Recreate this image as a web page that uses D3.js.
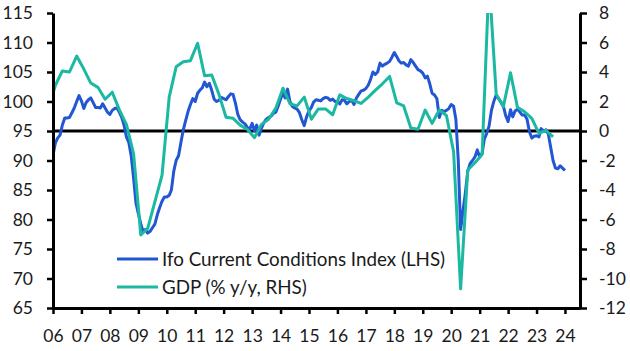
<!DOCTYPE html>
<html>
<head>
<meta charset="utf-8">
<script src="https://cdn.jsdelivr.net/npm/d3@7"></script>
<style>
  html, body { margin: 0; padding: 0; background: #fff; }
  svg { display: block; }
  text { font-family: "Lato", "Open Sans", sans-serif; fill: #1a1a1a; }
</style>
</head>
<body>
<svg id="chart" width="630" height="351"></svg>
<script>
// ---------- DATA ----------
// Ifo Current Conditions Index, monthly, Jan 2006 onwards (LHS)
const ifoStart = [2006, 0];
const ifoValues = [
  90.9, 93.0, 93.8, 94.3, 96.0, 97.2, 97.2, 97.3, 98.1, 98.9, 100.0, 101.0,
  100.1, 98.8, 99.8, 100.3, 100.6, 99.8, 99.0, 99.0, 98.9, 99.6, 98.9, 98.2,
  97.8, 98.5, 98.8, 98.9, 98.2, 97.3, 96.0, 94.0, 93.0, 90.8, 87.0, 82.8,
  81.0, 79.3, 78.0, 78.3, 77.7, 78.0, 78.6, 79.2, 80.8, 82.0, 83.1, 83.8,
  83.8, 84.1, 85.0, 88.2, 90.0, 90.8, 93.0, 95.2, 96.8, 98.3, 99.5, 100.5,
  100.0, 101.4, 101.9, 102.3, 103.3, 102.5, 103.1, 101.9, 100.4, 100.0, 100.2, 100.7,
  100.5, 100.3, 100.8, 101.3, 101.2, 99.7, 97.8, 96.9, 96.5, 96.2, 95.6, 95.3,
  96.3, 95.0, 96.0, 94.3, 95.5, 96.4, 97.0, 97.3, 97.5, 98.0, 98.2, 99.2,
  100.4, 101.5, 100.6, 102.1, 100.0, 99.2, 98.9, 98.7, 98.1, 96.9, 95.9, 97.4,
  98.4, 99.0, 99.9, 100.3, 100.2, 100.1, 100.5, 100.7, 100.6, 100.2, 100.4, 100.0,
  100.0, 99.6, 100.3, 100.2, 99.6, 100.0, 100.2, 99.5, 100.6, 101.2, 101.8, 101.9,
  102.2, 102.8, 103.7, 105.0, 104.6, 105.0, 106.5, 106.0, 106.3, 106.5, 106.8, 107.5,
  108.3, 107.6, 106.9, 106.5, 106.6, 106.2, 106.0, 107.1, 106.6, 106.0, 105.4, 105.2,
  104.8, 104.0, 104.3, 103.0, 101.4, 101.1, 100.5, 97.3, 98.5, 98.3, 98.5, 98.8,
  99.5, 99.2, 97.0, 90.0, 78.3, 81.5, 84.5, 88.2, 89.5, 90.0, 90.6, 91.8,
  90.6, 91.2, 93.6, 94.6, 95.8, 98.5, 100.0, 101.1, 100.5, 99.9, 99.2, 97.6,
  96.6, 98.6, 97.4, 98.4, 98.7, 98.2, 97.7, 97.7, 97.0, 94.9, 93.8, 94.1,
  94.2, 94.0, 95.4, 95.0, 95.2, 94.5, 92.3, 90.0, 88.7, 88.6, 89.1, 88.7,
  88.3
];

// GDP, % y/y, quarterly from 2005 Q4 (RHS), plotted at mid-quarter
const gdpStart = [2005, 10];
const gdpValues = [
  1.5,
  3.1, 4.07, 4.0, 5.08,
  4.2, 3.25, 2.96, 2.15,
  2.63, 1.45, 0.45, -1.55,
  -7.05, -6.6, -4.8, -3.0,
  2.3, 4.35, 4.7, 4.77,
  5.95, 3.75, 3.8, 2.5,
  0.93, 0.86, 0.4, 0.1,
  -0.45, 0.45, 0.8, 1.55,
  2.9, 1.85, 1.7, 2.3,
  0.8, 1.5, 1.5, 1.1,
  2.45, 2.2, 2.05, 1.87,
  2.3, 2.75, 3.2, 3.7,
  1.9, 1.7, 0.2, 0.12,
  1.42, 0.52, 1.42, 1.05,
  -1.4, -10.7, -2.64, -2.15,
  -1.6, 10.3, 2.5, 1.65,
  3.95, 1.6, 1.3, 0.86,
  -0.16, 0.05, -0.4
];

const leftTicks = [65, 70, 75, 80, 85, 90, 95, 100, 105, 110, 115];
const rightTicks = [-12, -10, -8, -6, -4, -2, 0, 2, 4, 6, 8];
const yearTicks = d3.range(2006, 2025);
const seriesNames = ["Ifo Current Conditions Index (LHS)", "GDP (% y/y, RHS)"];
const colors = { ifo: "#2356d3", gdp: "#1bb8a2", axis: "#000" };

// ---------- LAYOUT ----------
const plot = { left: 53, right: 580, top: 13, bottom: 308 };
const svg = d3.select("#chart");

const x = d3.scaleTime()
  .domain([new Date(2006, 0, 1), new Date(2024, 6, 12)])
  .range([plot.left, plot.right]);
const yL = d3.scaleLinear().domain([65, 115]).range([plot.bottom, plot.top]);
const yR = d3.scaleLinear().domain([-12, 8]).range([plot.bottom, plot.top]);

const ifo = ifoValues.map((v, i) => ({ d: new Date(ifoStart[0], ifoStart[1] + i, 1), v }));
const gdp = gdpValues.map((v, i) => ({ d: new Date(gdpStart[0], gdpStart[1] + 3 * i, 1), v }));

svg.append("defs").append("clipPath").attr("id", "clip")
  .append("rect")
  .attr("x", plot.left).attr("y", plot.top)
  .attr("width", plot.right - plot.left).attr("height", plot.bottom - plot.top);

const fontSize = 17.5;
const legendFontSize = 18.8;

// zero / 95 line
svg.append("line")
  .attr("x1", plot.left).attr("x2", plot.right)
  .attr("y1", yL(95)).attr("y2", yL(95))
  .attr("stroke", colors.axis).attr("stroke-width", 3);

const g = svg.append("g").attr("clip-path", "url(#clip)");
g.append("path").datum(ifo)
  .attr("fill", "none").attr("stroke", colors.ifo).attr("stroke-width", 3)
  .attr("stroke-linejoin", "round")
  .attr("d", d3.line().x(d => x(d.d)).y(d => yL(d.v)));
g.append("path").datum(gdp)
  .attr("fill", "none").attr("stroke", colors.gdp).attr("stroke-width", 3)
  .attr("stroke-linejoin", "round")
  .attr("d", d3.line().x(d => x(d.d)).y(d => yR(d.v)));

// axes
function styleAxis(sel) {
  sel.select(".domain").attr("stroke", colors.axis).attr("stroke-width", 3);
  sel.selectAll(".tick line").attr("stroke", colors.axis).attr("stroke-width", 2.5);
  sel.selectAll(".tick text").attr("font-size", fontSize).attr("fill", "#1a1a1a")
    .style("font-family", '"Lato", "Open Sans", sans-serif');
}

svg.append("g").attr("transform", `translate(${plot.left},0)`)
  .call(d3.axisLeft(yL).tickValues(leftTicks).tickSize(6).tickPadding(14).tickSizeOuter(0))
  .call(styleAxis);

svg.append("g").attr("transform", `translate(${plot.right},0)`)
  .call(d3.axisRight(yR).tickValues(rightTicks).tickSize(7).tickPadding(12).tickSizeOuter(0)
    .tickFormat(d => d < 0 ? "-" + Math.abs(d) : d))
  .call(styleAxis);

svg.append("g").attr("transform", `translate(0,${plot.bottom})`)
  .call(d3.axisBottom(x).tickValues(yearTicks.map(y => new Date(y, 0, 1)))
    .tickFormat(d3.timeFormat("%y")).tickSize(6).tickPadding(16).tickSizeOuter(0))
  .call(styleAxis);

// legend
const legend = [
  { name: seriesNames[0], color: colors.ifo, y: 259 },
  { name: seriesNames[1], color: colors.gdp, y: 287 }
];
legend.forEach(l => {
  svg.append("line").attr("x1", 117).attr("x2", 158).attr("y1", l.y).attr("y2", l.y)
    .attr("stroke", l.color).attr("stroke-width", 3);
  svg.append("text").attr("x", 162).attr("y", l.y).attr("dy", "0.36em")
    .attr("font-size", legendFontSize).text(l.name);
});
</script>
</body>
</html>
